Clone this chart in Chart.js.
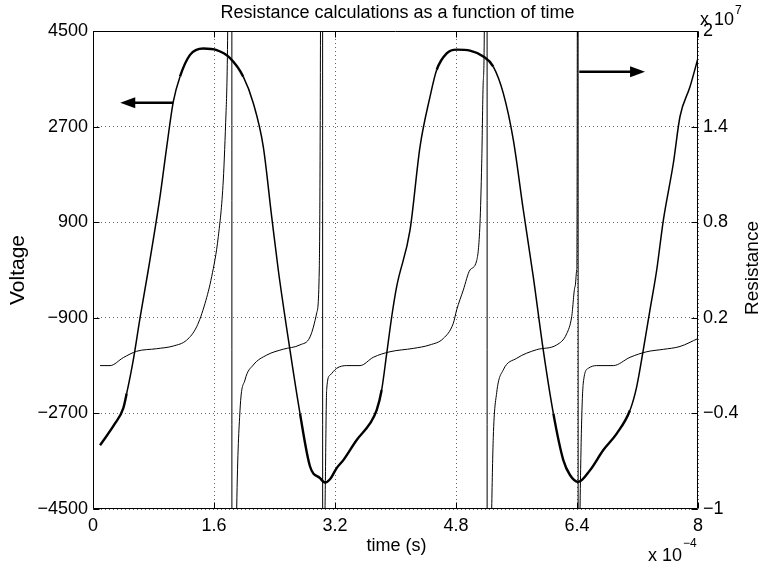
<!DOCTYPE html>
<html><head><meta charset="utf-8">
<script src="https://cdn.jsdelivr.net/npm/chart.js@4.4.1/dist/chart.umd.min.js"></script>
<style>html,body{margin:0;padding:0;background:#fff;}</style>
</head><body>
<canvas id="c" width="762" height="566"></canvas>
<script>
// ---- data (time in units of 1e-4 s, resistance in units of 1e7) ----
const voltT = [0.093,0.291,0.401,0.446,0.533,0.621,0.731,0.886,0.975,1.062,1.150,1.283,1.459,1.636,1.812,1.987,2.120,2.252,2.363,2.450,2.605,2.737,2.870,3.002,3.068,3.134,3.222,3.310,3.487,3.663,3.751,3.817,3.884,3.950,4.016,4.192,4.324,4.456,4.545,4.677,4.809,4.985,5.161,5.293,5.425,5.558,5.690,5.822,5.954,6.087,6.219,6.307,6.417,6.572,6.748,6.925,7.101,7.189,7.276,7.365,7.454,7.542,7.674,7.762,7.894,8.0];
const voltV = [-3300,-2890,-2600,-2320,-1690,-910,0,1380,2320,3170,3640,4050,4170,4140,3990,3640,3140,2320,1000,0,-1510,-2700,-3700,-3920,-4000,-3940,-3730,-3580,-3200,-2890,-2640,-2260,-1570,-880,-310,750,2320,3260,3770,4080,4150,4130,4020,3830,3330,2450,1130,-130,-1510,-2700,-3580,-3860,-3990,-3770,-3390,-3080,-2640,-2200,-1510,-750,0,940,2010,2890,3450,3990];
const resT = [0.093,0.225,0.401,0.578,0.842,1.062,1.239,1.371,1.481,1.570,1.657,1.723,1.759,1.781,1.805,1.831,1.842,1.871,1.900,1.944,2.010,2.120,2.297,2.516,2.737,2.870,2.958,2.992,3.008,3.022,3.032,3.041,3.055,3.068,3.090,3.134,3.222,3.355,3.531,3.706,3.927,4.235,4.456,4.632,4.764,4.809,4.897,4.985,5.074,5.117,5.140,5.161,5.174,5.190,5.206,5.217,5.243,5.272,5.293,5.338,5.425,5.603,5.867,6.132,6.264,6.330,6.374,6.396,6.404,6.410,6.420,6.430,6.440,6.483,6.549,6.660,6.880,7.101,7.322,7.541,7.762,8.0];
const resR = [-0.10,-0.10,-0.05,-0.01,0.006,0.023,0.06,0.144,0.29,0.46,0.71,1.065,1.485,2.0,6,40,-40,-4,-1.0,-0.38,-0.19,-0.096,-0.034,0.003,0.03,0.08,0.23,0.50,2.0,8,40,-40,-3,-1.0,-0.25,-0.16,-0.117,-0.10,-0.10,-0.048,-0.013,0.008,0.03,0.07,0.165,0.25,0.375,0.5,0.56,0.79,1.17,1.69,2.0,8,40,-40,-4,-1.0,-0.55,-0.27,-0.127,-0.054,0.0,0.03,0.10,0.207,0.395,0.5,2.0,40,-40,-3,-1.0,-0.21,-0.117,-0.10,-0.10,-0.048,-0.013,0.002,0.02,0.07];

const xTicks = [0,1.6,3.2,4.8,6.4,8];
const xTickLabels = ['0','1.6','3.2','4.8','6.4','8'];
const vTicks = [-4500,-2700,-900,900,2700,4500];
const vTickLabels = ['\u22124500','\u22122700','\u2212900','900','2700','4500'];
const rTicks = [-1,-0.4,0.2,0.8,1.4,2];
const rTickLabels = ['\u22121','\u22120.4','0.2','0.8','1.4','2'];

const titleText = 'Resistance calculations as a function of time';
const xTitle = 'time (s)';
const vTitle = 'Voltage';
const rTitle = 'Resistance';
const xExp = '\u22124';
const rExp = '7';
// annotation arrows: [from time, to time (tip), voltage level]
const arrowLeft = [1.06, 0.36, 3150];
const arrowRight = [6.43, 7.30, 3734];

const FAM = "'Liberation Sans', Arial, Helvetica, sans-serif";

const pts = (xs, ys) => xs.map((x, i) => ({x: x, y: ys[i]}));

const framePlugin = {
  id: 'frame',
  afterDatasetsDraw(chart) {
    const {ctx, chartArea: a, scales} = chart;
    const L = Math.round(a.left) + 0.5, R = Math.round(a.right) - 0.5;
    const T = Math.round(a.top) + 0.5, B = Math.round(a.bottom) - 0.5;
    ctx.save();
    ctx.strokeStyle = '#000';
    ctx.lineWidth = 1;
    ctx.beginPath();
    ctx.rect(L, T, R - L, B - T);
    const tl = 6;
    xTicks.forEach(v => {
      const px = Math.round(scales.x.getPixelForValue(v)) + 0.5;
      ctx.moveTo(px, B); ctx.lineTo(px, B - tl);
      ctx.moveTo(px, T); ctx.lineTo(px, T + tl);
    });
    vTicks.forEach(v => {
      const py = Math.round(scales.y.getPixelForValue(v)) + 0.5;
      ctx.moveTo(L, py); ctx.lineTo(L + tl, py);
    });
    rTicks.forEach(v => {
      const py = Math.round(scales.y1.getPixelForValue(v)) + 0.5;
      ctx.moveTo(R, py); ctx.lineTo(R - tl, py);
    });
    ctx.stroke();

    // arrows
    const drawArrow = (spec) => {
      const x1 = scales.x.getPixelForValue(spec[0]);
      const x2 = scales.x.getPixelForValue(spec[1]);
      const y = scales.y.getPixelForValue(spec[2]);
      const dir = Math.sign(x2 - x1);
      const hl = 15, hh = 5.5;
      ctx.fillStyle = '#000';
      ctx.lineWidth = 2.6;
      ctx.beginPath();
      ctx.moveTo(x1, y); ctx.lineTo(x2 - dir * hl + dir, y);
      ctx.stroke();
      ctx.beginPath();
      ctx.moveTo(x2, y);
      ctx.lineTo(x2 - dir * hl, y - hh);
      ctx.lineTo(x2 - dir * hl, y + hh);
      ctx.closePath();
      ctx.fill();
    };
    drawArrow(arrowLeft);
    drawArrow(arrowRight);
    ctx.restore();
  },
  afterDraw(chart) {
    const {ctx, chartArea: a} = chart;
    ctx.save();
    ctx.fillStyle = '#000';
    ctx.font = '18px ' + FAM;
    ctx.textAlign = 'center';
    ctx.textBaseline = 'alphabetic';
    const cx = (a.left + a.right) / 2;
    ctx.fillText(titleText, cx + 2, 18);
    ctx.fillText(xTitle, cx + 1, 551);
    // exponent labels
    ctx.textAlign = 'left';
    ctx.font = '18px ' + FAM;
    const s1 = 'x 10';
    ctx.fillText(s1, a.right + 2, 25);
    const w1 = ctx.measureText(s1).width;
    ctx.font = '12px ' + FAM;
    ctx.fillText(rExp, a.right + 2 + w1 + 1, 14);
    ctx.font = '18px ' + FAM;
    ctx.fillText(s1, 648, 561);
    const w2 = ctx.measureText(s1).width;
    ctx.font = '12px ' + FAM;
    ctx.fillText(xExp, 648 + w2 + 1, 547);
    // rotated axis titles
    ctx.font = '21px ' + FAM;
    ctx.textAlign = 'center';
    ctx.textBaseline = 'middle';
    ctx.save();
    ctx.translate(18, 270);
    ctx.rotate(-Math.PI / 2);
    ctx.fillText(vTitle, 0, 0);
    ctx.restore();
    ctx.font = '19px ' + FAM;
    ctx.save();
    ctx.translate(753, 268);
    ctx.rotate(-Math.PI / 2);
    ctx.fillText(rTitle, 0, 0);
    ctx.restore();
    ctx.restore();
  }
};

const gridCommon = {color: 'rgba(0,0,0,0.6)', lineWidth: 1, drawTicks: false};

new Chart(document.getElementById('c').getContext('2d'), {
  type: 'line',
  data: {
    datasets: [
      {
        label: 'Voltage',
        data: pts(voltT, voltV),
        yAxisID: 'y',
        borderColor: '#000',
        borderWidth: 1.5,
        pointRadius: 0,
        cubicInterpolationMode: 'monotone',
        segment: {
          borderWidth: c => {
            const a = c.p0.parsed.y, b = c.p1.parsed.y;
            return ((a > 3600 && b > 3600) || (a < -2200 && b < -2200 && c.p1.parsed.x > c.p0.parsed.x)) ? 2.4 : 1.5;
          }
        }
      },
      {
        label: 'Resistance',
        data: pts(resT, resR),
        yAxisID: 'y1',
        borderColor: '#000',
        borderWidth: 1,
        pointRadius: 0,
        cubicInterpolationMode: 'monotone'
      }
    ]
  },
  options: {
    responsive: false,
    animation: false,
    devicePixelRatio: 1,
    layout: {padding: {top: 31, left: 0, right: 0, bottom: 0}},
    plugins: {legend: {display: false}, tooltip: {enabled: false}, title: {display: false}},
    scales: {
      x: {
        type: 'linear', min: 0, max: 8,
        afterBuildTicks: s => { s.ticks = xTicks.map(v => ({value: v})); },
        afterFit: s => { s.height = 57; },
        grid: gridCommon,
        border: {display: false, dash: [1, 3]},
        ticks: {
          autoSkip: false, maxRotation: 0, padding: 6, color: '#000',
          font: {family: FAM, size: 18},
          callback: (v, i) => xTickLabels[i]
        }
      },
      y: {
        type: 'linear', position: 'left', min: -4500, max: 4500,
        afterBuildTicks: s => { s.ticks = vTicks.map(v => ({value: v})); },
        afterFit: s => { s.width = 93; },
        grid: gridCommon,
        border: {display: false, dash: [1, 3]},
        ticks: {
          autoSkip: false, padding: 5, color: '#000',
          font: {family: FAM, size: 18},
          callback: (v, i) => vTickLabels[i]
        }
      },
      y1: {
        type: 'linear', position: 'right', min: -1, max: 2,
        afterBuildTicks: s => { s.ticks = rTicks.map(v => ({value: v})); },
        afterFit: s => { s.width = 64; },
        grid: {drawOnChartArea: false, drawTicks: false},
        border: {display: false},
        ticks: {
          autoSkip: false, padding: 5, color: '#000',
          font: {family: FAM, size: 18},
          callback: (v, i) => rTickLabels[i]
        }
      }
    }
  },
  plugins: [framePlugin]
});
</script>
</body></html>
